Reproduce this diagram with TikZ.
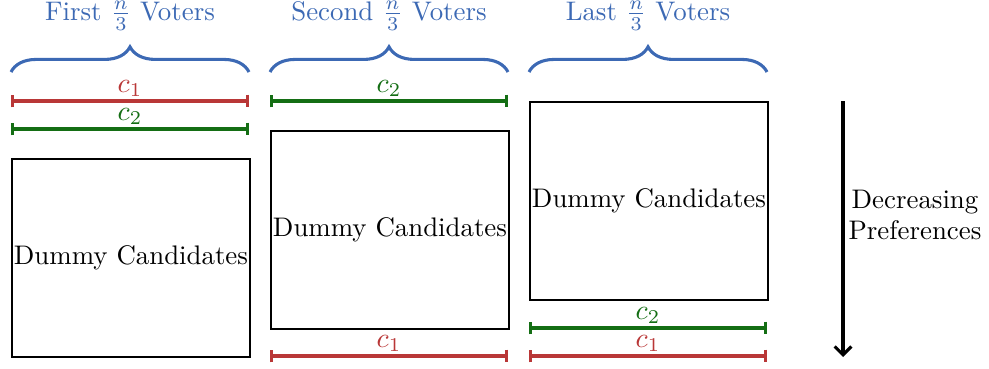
\documentclass[tikz,border=0pt]{standalone}
\usetikzlibrary{decorations.pathreplacing,arrows.meta}
\definecolor{bblue}{RGB}{60,105,180}
\definecolor{rred}{RGB}{185,55,55}
\definecolor{ggreen}{RGB}{20,110,20}
\begin{document}
\begin{tikzpicture}[x=0.3575pt,y=-0.3575pt,
  font=\fontsize{9.6}{11}\selectfont,
  dbox/.style={draw,line width=0.7pt,minimum width=238*0.3575pt,minimum height=198*0.3575pt,inner sep=0pt,anchor=north west},
  cline/.style={line width=1.1pt,{Bar[width=4.5pt]}-{Bar[width=4.5pt]}},
  clab/.style={inner sep=1pt,anchor=south},
  brc/.style={decorate,decoration={brace,amplitude=9pt},line width=1.1pt,bblue},
  ttl/.style={text=bblue}]
\useasboundingbox (0,0) rectangle (989,368);
% column positions
\foreach \i/\x in {1/11,2/270,3/529}{
  \coordinate (bl\i) at (\x,72);
  \coordinate (br\i) at (\x+238,72);
  \draw[brc] (bl\i) -- (br\i);
}
\node[ttl] (t1) at (130,16) {First $\frac{n}{3}$ Voters};
\node[ttl] (t2) at (389,16) {Second $\frac{n}{3}$ Voters};
\node[ttl] (t3) at (648,16) {Last $\frac{n}{3}$ Voters};
% column 1
\coordinate (a1) at (11,101); \coordinate (b1) at (249,101);
\draw[cline,rred] (a1) -- node[clab,rred,above]{$c_1$} (b1);
\coordinate (a2) at (11,129); \coordinate (b2) at (249,129);
\draw[cline,ggreen] (a2) -- node[clab,ggreen,above]{$c_2$} (b2);
\node[dbox] (d1) at (11,158) {Dummy Candidates};
% column 2
\coordinate (a3) at (270,101); \coordinate (b3) at (508,101);
\draw[cline,ggreen] (a3) -- node[clab,ggreen,above]{$c_2$} (b3);
\node[dbox] (d2) at (270,130) {Dummy Candidates};
\coordinate (a4) at (270,356); \coordinate (b4) at (508,356);
\draw[cline,rred] (a4) -- node[clab,rred,above]{$c_1$} (b4);
% column 3
\node[dbox] (d3) at (529,101) {Dummy Candidates};
\coordinate (a5) at (529,328); \coordinate (b5) at (767,328);
\draw[cline,ggreen] (a5) -- node[clab,ggreen,above]{$c_2$} (b5);
\coordinate (a6) at (529,356); \coordinate (b6) at (767,356);
\draw[cline,rred] (a6) -- node[clab,rred,above]{$c_1$} (b6);
% arrow
\coordinate (p1) at (843,101); \coordinate (p2) at (843,357);
\draw[line width=1.1pt,-{Straight Barb[length=3pt,width=6pt]}] (p1) -- (p2);
\node[align=center] (dp) at (915,215) {Decreasing\\Preferences};
\end{tikzpicture}
\end{document}
